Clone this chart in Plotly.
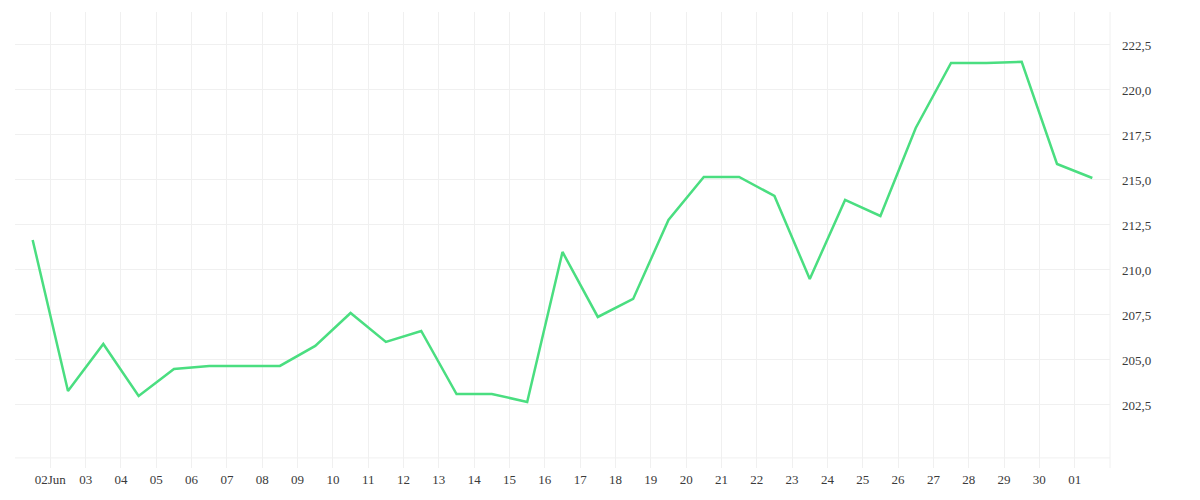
import plotly.graph_objects as go
import pandas as pd

# Data
dates = pd.date_range("2024-06-01 12:00", periods=31, freq="D")
values = [211.67, 203.28, 205.89, 203.0, 204.5, 204.67, 204.67, 204.67, 205.78, 207.61,
          206.0, 206.61, 203.11, 203.11, 202.67, 211.0, 207.39, 208.39, 212.78, 215.17,
          215.17, 214.11, 209.5, 213.89, 213.0, 217.89, 221.5, 221.5, 221.56, 215.89,
          215.11]

tick_dates = pd.date_range("2024-06-01", "2024-07-02", freq="D")
tick_labels = [""] + ["02Jun"] + [d.strftime("%d") for d in tick_dates[2:-1]] + [""]
y_ticks = [202.5, 205.0, 207.5, 210.0, 212.5, 215.0, 217.5, 220.0, 222.5]

fig = go.Figure()
fig.add_trace(go.Scatter(
    x=dates, y=values, mode="lines",
    line=dict(color="#4ade80", width=2.5),
    hoverinfo="skip", showlegend=False,
))

grid = "#f0f0f0"
font = dict(family="Liberation Serif", size=13, color="#3a3a3a")

fig.update_layout(
    width=1200, height=500,
    margin=dict(l=7, r=87, t=4, b=40, autoexpand=False),
    paper_bgcolor="white", plot_bgcolor="white",
    separators=",.",
    font=font,
    xaxis=dict(
        domain=[0, 1095 / 1106],
        range=[tick_dates[0], tick_dates[-1]],
        tickmode="array", tickvals=tick_dates, ticktext=tick_labels,
        showgrid=True, gridcolor=grid, gridwidth=1,
        zeroline=False, showline=False,
        ticks="", ticklabelstandoff=2,
    ),
    yaxis=dict(
        side="right", anchor="free", position=1.0,
        range=[199.0, 224.33],
        tickmode="array", tickvals=y_ticks, tickformat=".1f",
        showgrid=True, gridcolor=grid, gridwidth=1,
        zeroline=False, showline=False,
        ticks="",
    ),
    shapes=[
        dict(type="line", xref="x domain", x0=0, x1=1, yref="y", y0=199.56, y1=199.56,
             line=dict(color=grid, width=1), layer="below"),
        dict(type="line", xref="x domain", x0=1, x1=1, yref="paper", y0=0, y1=1,
             line=dict(color=grid, width=1), layer="above"),
    ],
)

fig.write_html("out.html")
